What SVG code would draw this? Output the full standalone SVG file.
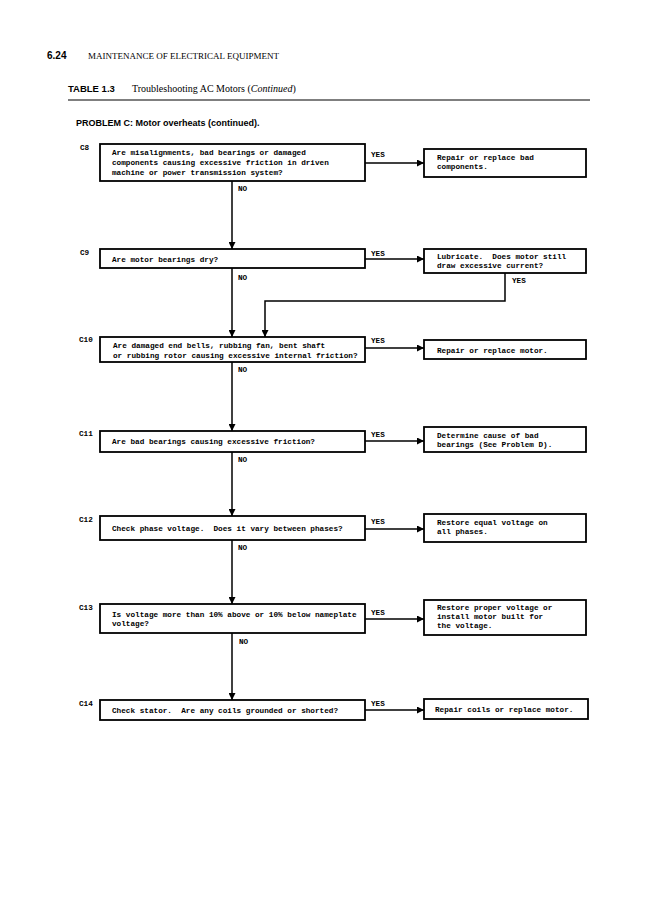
<svg xmlns="http://www.w3.org/2000/svg" width="662" height="900" viewBox="0 0 662 900">
<style>
.bx{fill:#fff;stroke:#000;stroke-width:1.8}
.t{font-family:"Liberation Mono","DejaVu Sans Mono",monospace;font-weight:bold;font-size:7.7px;fill:#000;white-space:pre}
.lb{font-family:"Liberation Mono","DejaVu Sans Mono",monospace;font-weight:bold;font-size:7.7px;fill:#000}
.ln{fill:none;stroke:#000;stroke-width:1.5}
.hs{font-family:"Liberation Sans",Arial,sans-serif;font-weight:bold;fill:#000}
.hr{font-family:"Liberation Serif","Times New Roman",serif;fill:#000}
</style>
<defs>
<marker id="ah" markerUnits="userSpaceOnUse" markerWidth="7" markerHeight="7" refX="7" refY="3.5" orient="auto">
<path d="M0,0 L7,3.5 L0,7 z" fill="#000"/>
</marker>
</defs>
<rect width="662" height="900" fill="#fff"/>
<g id="header">
<text class="hs" x="47" y="59" font-size="10">6.24</text>
<text class="hr" x="88" y="59" font-size="9">MAINTENANCE OF ELECTRICAL EQUIPMENT</text>
<text class="hs" x="68" y="92" font-size="9.5">TABLE 1.3</text>
<text class="hr" x="132" y="92" font-size="10">Troubleshooting AC Motors (<tspan font-style="italic">Continued</tspan>)</text>
<line x1="68" y1="100" x2="590" y2="100" stroke="#000" stroke-width="1.2"/>
<text class="hs" x="76" y="126" font-size="9">PROBLEM C: Motor overheats (continued).</text>
</g>
<g id="C8">
<text class="lb" x="80" y="150">C8</text>
<rect class="bx" x="100" y="144" width="265" height="37"/>
<text class="t" x="112" y="155">Are misalignments, bad bearings or damaged</text>
<text class="t" x="112" y="165">components causing excessive friction in driven</text>
<text class="t" x="112" y="175">machine or power transmission system?</text>
</g>
<g id="R8">
<rect class="bx" x="424" y="149" width="162" height="28"/>
<text class="t" x="437" y="160">Repair or replace bad</text>
<text class="t" x="437" y="169">components.</text>
</g>
<g id="C9">
<text class="lb" x="80" y="255">C9</text>
<rect class="bx" x="100" y="249" width="265" height="19"/>
<text class="t" x="112" y="262">Are motor bearings dry?</text>
</g>
<g id="R9">
<rect class="bx" x="424" y="249" width="162" height="24"/>
<text class="t" x="437" y="259" xml:space="preserve">Lubricate.  Does motor still</text>
<text class="t" x="437" y="268">draw excessive current?</text>
</g>
<g id="C10">
<text class="lb" x="79" y="342">C10</text>
<rect class="bx" x="100" y="337" width="265" height="25"/>
<text class="t" x="113" y="348">Are damaged end bells, rubbing fan, bent shaft</text>
<text class="t" x="113" y="358">or rubbing rotor causing excessive internal friction?</text>
</g>
<g id="R10">
<rect class="bx" x="424" y="340" width="162" height="19"/>
<text class="t" x="437" y="353">Repair or replace motor.</text>
</g>
<g id="C11">
<text class="lb" x="79" y="436">C11</text>
<rect class="bx" x="100" y="431" width="265" height="21"/>
<text class="t" x="112" y="444">Are bad bearings causing excessive friction?</text>
</g>
<g id="R11">
<rect class="bx" x="424" y="427" width="162" height="25"/>
<text class="t" x="437" y="438">Determine cause of bad</text>
<text class="t" x="437" y="447">bearings (See Problem D).</text>
</g>
<g id="C12">
<text class="lb" x="79" y="522">C12</text>
<rect class="bx" x="100" y="516" width="265" height="24"/>
<text class="t" x="112" y="531" xml:space="preserve">Check phase voltage.  Does it vary between phases?</text>
</g>
<g id="R12">
<rect class="bx" x="424" y="514" width="162" height="28"/>
<text class="t" x="437" y="525">Restore equal voltage on</text>
<text class="t" x="437" y="534">all phases.</text>
</g>
<g id="C13">
<text class="lb" x="79" y="610">C13</text>
<rect class="bx" x="100" y="604" width="265" height="29"/>
<text class="t" x="112" y="617">Is voltage more than 10% above or 10% below nameplate</text>
<text class="t" x="112" y="626">voltage?</text>
</g>
<g id="R13">
<rect class="bx" x="424" y="600" width="162" height="35"/>
<text class="t" x="437" y="610">Restore proper voltage or</text>
<text class="t" x="437" y="619">install motor built for</text>
<text class="t" x="437" y="628">the voltage.</text>
</g>
<g id="C14">
<text class="lb" x="79" y="706">C14</text>
<rect class="bx" x="100" y="700" width="265" height="20"/>
<text class="t" x="112" y="713" xml:space="preserve">Check stator.  Are any coils grounded or shorted?</text>
</g>
<g id="R14">
<rect class="bx" x="424" y="699" width="164" height="20"/>
<text class="t" x="435" y="712">Repair coils or replace motor.</text>
</g>
<g id="connectors">
<line class="ln" x1="232" y1="181" x2="232" y2="249" marker-end="url(#ah)"/>
<line class="ln" x1="232" y1="268" x2="232" y2="337" marker-end="url(#ah)"/>
<line class="ln" x1="232" y1="362" x2="232" y2="431" marker-end="url(#ah)"/>
<line class="ln" x1="232" y1="452" x2="232" y2="516" marker-end="url(#ah)"/>
<line class="ln" x1="232" y1="540" x2="232" y2="604" marker-end="url(#ah)"/>
<line class="ln" x1="232" y1="633" x2="232" y2="700" marker-end="url(#ah)"/>
<line class="ln" x1="365" y1="163" x2="424" y2="163" marker-end="url(#ah)"/>
<line class="ln" x1="365" y1="259" x2="424" y2="259" marker-end="url(#ah)"/>
<line class="ln" x1="365" y1="348" x2="424" y2="348" marker-end="url(#ah)"/>
<line class="ln" x1="365" y1="441" x2="424" y2="441" marker-end="url(#ah)"/>
<line class="ln" x1="365" y1="529" x2="424" y2="529" marker-end="url(#ah)"/>
<line class="ln" x1="365" y1="619" x2="424" y2="619" marker-end="url(#ah)"/>
<line class="ln" x1="365" y1="710" x2="424" y2="710" marker-end="url(#ah)"/>
<polyline class="ln" points="505,273 505,301 265,301 265,337" marker-end="url(#ah)"/>
<text class="lb" x="238" y="191">NO</text>
<text class="lb" x="238" y="280">NO</text>
<text class="lb" x="238" y="372">NO</text>
<text class="lb" x="238" y="462">NO</text>
<text class="lb" x="238" y="550">NO</text>
<text class="lb" x="239" y="644">NO</text>
<text class="lb" x="371" y="157">YES</text>
<text class="lb" x="371" y="256">YES</text>
<text class="lb" x="371" y="343">YES</text>
<text class="lb" x="371" y="437">YES</text>
<text class="lb" x="371" y="524">YES</text>
<text class="lb" x="371" y="615">YES</text>
<text class="lb" x="371" y="706">YES</text>
<text class="lb" x="512" y="283">YES</text>
</g>
</svg>
